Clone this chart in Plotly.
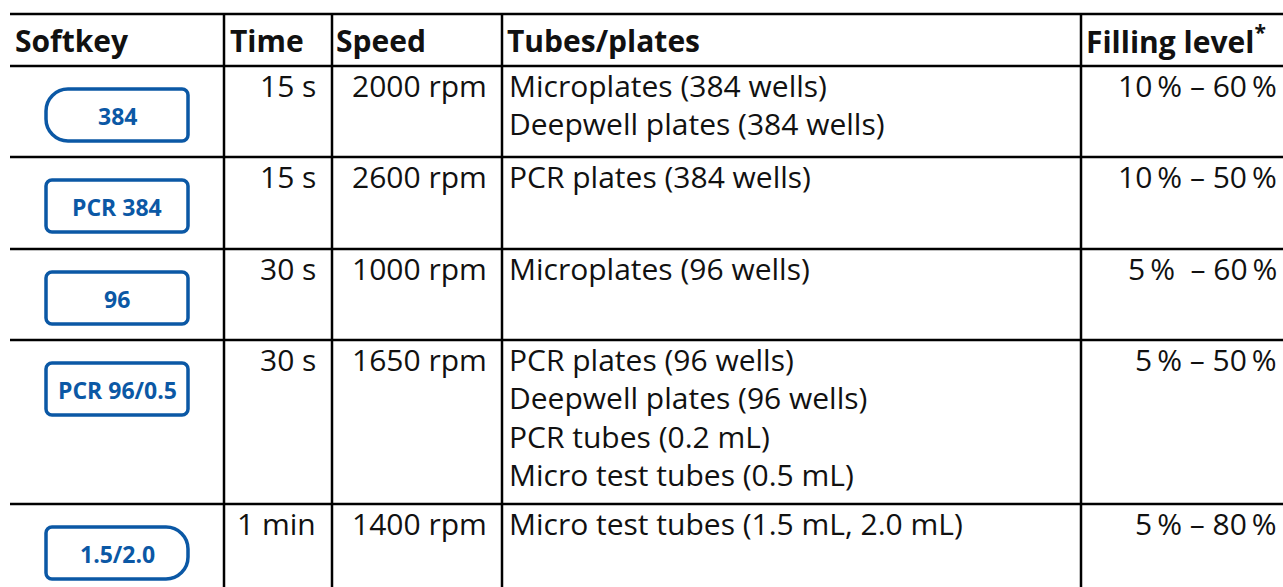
import plotly.graph_objects as go

# ---------------- data ----------------
headers = ["Softkey", "Time", "Speed", "Tubes/plates", "Filling level<sup>*</sup>"]
softkeys = ["384", "PCR 384", "96", "PCR 96/0.5", "1.5/2.0"]
softkey_shape = ["left", "square", "square", "square", "right"]
times = ["15 s", "15 s", "30 s", "30 s", "1 min"]
speeds = ["2000 rpm", "2600 rpm", "1000 rpm", "1650 rpm", "1400 rpm"]
tubes = [
    ["Microplates (384 wells)", "Deepwell plates (384 wells)"],
    ["PCR plates (384 wells)"],
    ["Microplates (96 wells)"],
    ["PCR plates (96 wells)", "Deepwell plates (96 wells)",
     "PCR tubes (0.2 mL)", "Micro test tubes (0.5 mL)"],
    ["Micro test tubes (1.5 mL, 2.0 mL)"],
]
filling = ["10\u2009% \u2013 60\u2009%", "10\u2009% \u2013 50\u2009%",
           "5\u2009%\u00a0 \u2013 60\u2009%", "5\u2009% \u2013 50\u2009%",
           "5\u2009% \u2013 80\u2009%"]

# ---------------- layout geometry ----------------
W, H = 1283, 587
col_x = [10, 224, 332, 502, 1081, 1283]
row_y = [14, 66, 157, 249, 340, 504, 587]
BLUE = "#0b58a5"
FONT = "Open Sans"
BODY = 30
HEAD = 30
LINE_GAP = 38.5

fig = go.Figure()
shapes = []
annotations = []

# horizontal rules
for y in row_y[:-1]:
    shapes.append(dict(type="line", xref="x", yref="y", x0=col_x[0], x1=col_x[-1],
                       y0=y, y1=y, line=dict(color="black", width=2.5)))
# vertical rules
for x in col_x[1:-1]:
    shapes.append(dict(type="line", xref="x", yref="y", x0=x, x1=x,
                       y0=row_y[0], y1=row_y[-1], line=dict(color="black", width=2.5)))

# headers
hdr_x = [13, 228, 334, 505, 1084]
for t, x in zip(headers, hdr_x):
    annotations.append(dict(x=x, y=(row_y[0] + row_y[1]) / 2, text="<b>" + t + "</b>",
                            xanchor="left", yanchor="middle", showarrow=False,
                            font=dict(family=FONT, size=HEAD, color="#111")))


def button_path(x0, x1, y0, y1, kind):
    r = 6
    if kind == "left":
        rl, rr = 22, r
    elif kind == "right":
        rl, rr = r, 22
    else:
        rl, rr = r, r
    hl = min(rl, (y1 - y0) / 2) if kind == "left" else r
    hr = min(rr, (y1 - y0) / 2) if kind == "right" else r
    k = 0.5523
    p = f"M {x0 + rl},{y0} L {x1 - rr},{y0} "
    p += f"C {x1 - rr + rr * k},{y0} {x1},{y0 + hr - hr * k} {x1},{y0 + hr} "
    p += f"L {x1},{y1 - hr} "
    p += f"C {x1},{y1 - hr + hr * k} {x1 - rr + rr * k},{y1} {x1 - rr},{y1} "
    p += f"L {x0 + rl},{y1} "
    p += f"C {x0 + rl - rl * k},{y1} {x0},{y1 - hl + hl * k} {x0},{y1 - hl} "
    p += f"L {x0},{y0 + hl} "
    p += f"C {x0},{y0 + hl - hl * k} {x0 + rl - rl * k},{y0} {x0 + rl},{y0} Z"
    return p


for i in range(len(softkeys)):
    top = row_y[i + 1]
    b0, b1 = top + 23, top + 75
    shapes.append(dict(type="path", xref="x", yref="y",
                       path=button_path(46, 188, b0, b1, softkey_shape[i]),
                       line=dict(color=BLUE, width=3.5), fillcolor="white"))
    annotations.append(dict(x=117, y=(b0 + b1) / 2 + 1, text="<b>" + softkeys[i] + "</b>",
                            xanchor="center", yanchor="middle", showarrow=False,
                            font=dict(family=FONT, size=23, color=BLUE)))
    ty = top + 19
    annotations.append(dict(x=318, y=ty, text=times[i], xanchor="right", yanchor="middle",
                            showarrow=False, font=dict(family=FONT, size=BODY, color="#111")))
    annotations.append(dict(x=489, y=ty, text=speeds[i], xanchor="right", yanchor="middle",
                            showarrow=False, font=dict(family=FONT, size=BODY, color="#111")))
    for j, line in enumerate(tubes[i]):
        annotations.append(dict(x=507, y=ty + j * LINE_GAP, text=line, xanchor="left",
                                yanchor="middle", showarrow=False,
                                font=dict(family=FONT, size=BODY, color="#111")))
    annotations.append(dict(x=1279, y=ty, text=filling[i], xanchor="right", yanchor="middle",
                            showarrow=False, font=dict(family=FONT, size=BODY, color="#111")))

fig.update_layout(
    width=W, height=H, margin=dict(l=0, r=0, t=0, b=0),
    paper_bgcolor="white", plot_bgcolor="white",
    xaxis=dict(range=[0, W], visible=False, fixedrange=True),
    yaxis=dict(range=[H, 0], visible=False, fixedrange=True),
    shapes=shapes, annotations=annotations, showlegend=False,
)
fig.write_html("out.html", config={"displayModeBar": False},
               post_script="document.body.style.margin='0';document.body.style.overflow='hidden';")
